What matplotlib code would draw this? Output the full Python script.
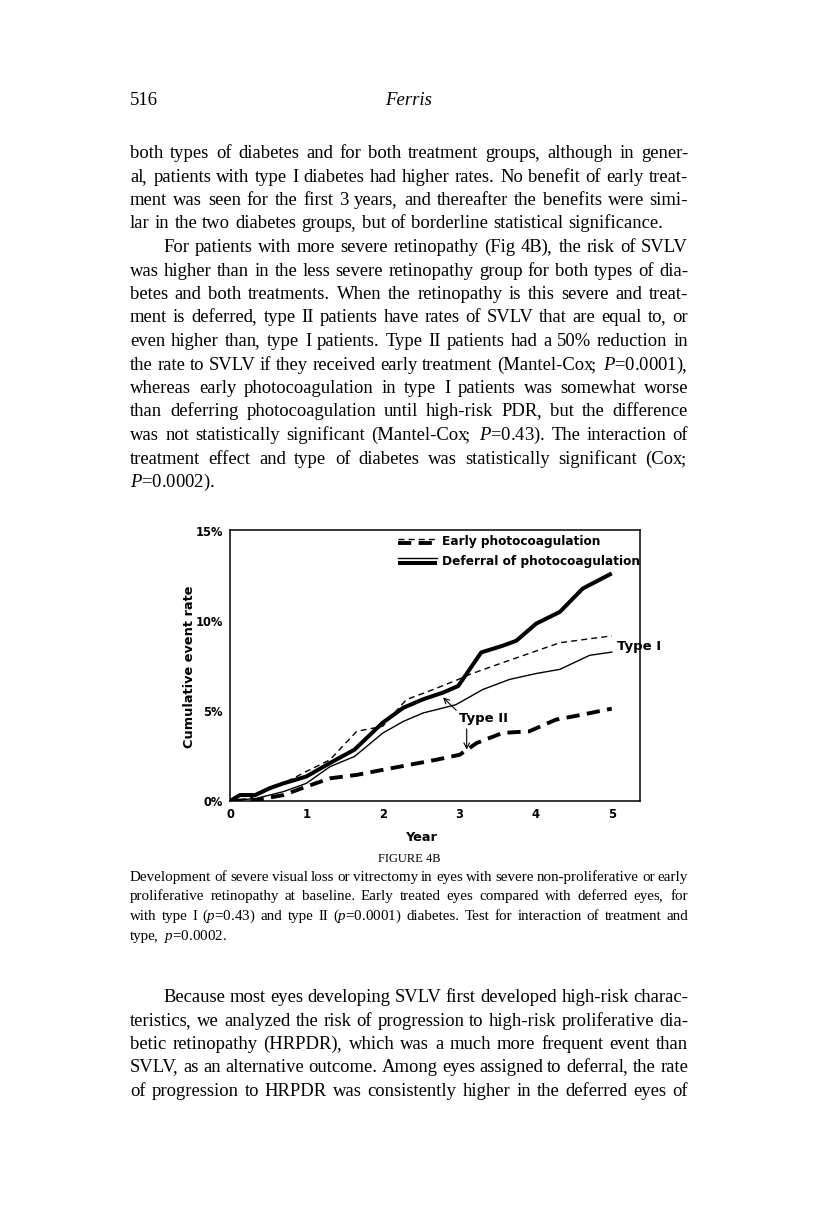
import numpy as np
import matplotlib
matplotlib.use("Agg")
import matplotlib.pyplot as plt
from matplotlib.lines import Line2D
from matplotlib.legend_handler import HandlerBase

plt.rcParams['mathtext.fontset'] = 'custom'
plt.rcParams['mathtext.it'] = 'Liberation Serif:italic'
plt.rcParams['mathtext.rm'] = 'Liberation Serif'

# --- data (years, cumulative %) ---
early_t1_x = [0, 0.26, 0.70, 1.00, 1.31, 1.66, 2.00, 2.31, 2.66, 2.99, 3.14, 3.57, 4.01, 4.32, 5.00]
early_t1_y = [0, 0.15, 0.98, 1.64, 2.29, 3.87, 4.15, 5.63, 6.19, 6.75, 7.03, 7.68, 8.33, 8.79, 9.17]

defer_t1_x = [0, 0.35, 0.70, 1.00, 1.31, 1.63, 2.00, 2.27, 2.53, 2.70, 2.96, 3.31, 3.66, 4.01, 4.32, 4.71, 5.00]
defer_t1_y = [0, 0.15, 0.52, 0.98, 1.91, 2.47, 3.77, 4.42, 4.89, 5.07, 5.35, 6.19, 6.75, 7.08, 7.31, 8.09, 8.27]

early_t2_x = [0, 0.35, 0.70, 1.00, 1.31, 1.66, 2.00, 2.35, 2.70, 3.01, 3.23, 3.57, 3.92, 4.27, 4.62, 5.00]
early_t2_y = [0, 0.06, 0.33, 0.80, 1.26, 1.45, 1.73, 2.01, 2.29, 2.57, 3.22, 3.78, 3.87, 4.52, 4.80, 5.13]

defer_t2_x = [0, 0.13, 0.33, 0.52, 0.70, 1.00, 1.31, 1.63, 2.00, 2.27, 2.53, 2.79, 2.99, 3.29, 3.57, 3.75, 4.01, 4.32, 4.62, 5.00]
defer_t2_y = [0, 0.33, 0.33, 0.71, 0.98, 1.36, 2.11, 2.85, 4.35, 5.18, 5.65, 6.02, 6.39, 8.25, 8.62, 8.90, 9.85, 10.5, 11.8, 12.64]

x_ticks = [0, 1, 2, 3, 4, 5]
y_ticks = [0, 5, 10, 15]
y_ticklabels = ['0%', '5%', '10%', '15%']

para1 = [
    "both types of diabetes and for both treatment groups, although in gener-",
    "al, patients with type I diabetes had higher rates. No benefit of early treat-",
    "ment was seen for the first 3 years, and thereafter the benefits were simi-",
    "lar in the two diabetes groups, but of borderline statistical significance.",
]
para2 = [
    "For patients with more severe retinopathy (Fig 4B), the risk of SVLV",
    "was higher than in the less severe retinopathy group for both types of dia-",
    "betes and both treatments. When the retinopathy is this severe and treat-",
    "ment is deferred, type II patients have rates of SVLV that are equal to, or",
    "even higher than, type I patients. Type II patients had a 50% reduction in",
    r"the rate to SVLV if they received early treatment (Mantel-Cox; $\mathit{P}$=0.0001),",
    "whereas early photocoagulation in type I patients was somewhat worse",
    "than deferring photocoagulation until high-risk PDR, but the difference",
    r"was not statistically significant (Mantel-Cox; $\mathit{P}$=0.43). The interaction of",
    "treatment effect and type of diabetes was statistically significant (Cox;",
    r"$\mathit{P}$=0.0002).",
]
caption = [
    "Development of severe visual loss or vitrectomy in eyes with severe non-proliferative or early",
    "proliferative retinopathy at baseline.  Early treated eyes compared with deferred eyes, for",
    r"with type I ($\mathit{p}$=0.43) and type II ($\mathit{p}$=0.0001) diabetes.  Test for interaction of treatment and",
    r"type, $\mathit{p}$=0.0002.",
]
para3 = [
    "Because most eyes developing SVLV first developed high-risk charac-",
    "teristics, we analyzed the risk of progression to high-risk proliferative dia-",
    "betic retinopathy (HRPDR), which was a much more frequent event than",
    "SVLV, as an alternative outcome. Among eyes assigned to deferral, the rate",
    "of progression to HRPDR was consistently higher in the deferred eyes of",
]

W, H = 816, 1224
fig = plt.figure(figsize=(W / 100, H / 100), dpi=100)
r = fig.canvas.get_renderer()
serif = 'Liberation Serif'
sans = 'DejaVu Sans'


def fx(px):
    return px / W


def fy(py):
    return 1 - py / H


def width_of(s, size, **kw):
    t = fig.text(0, 0, s, fontsize=size, family=serif, **kw)
    w = t.get_window_extent(r).width
    t.remove()
    return w


def text_line(s, x0, x1, yb, size, just=True, **kw):
    yb = round(yb)
    words = s.split()
    pieces = []  # (word part, punct or None, full width, punct offset)
    for w in words:
        # trailing comma / semicolon as its own text keeps baselines even
        if len(w) > 1 and w[-1] in ',;':
            full = width_of(w, size, **kw)
            pw = width_of(w[-1], size, **kw)
            pieces.append((w[:-1], w[-1], full, full - pw - 2.0))
        else:
            pieces.append((w, None, width_of(w, size, **kw), 0))
    total = sum(p[2] for p in pieces)
    if just and len(pieces) > 1:
        gap = (x1 - x0 - total) / (len(pieces) - 1)
    else:
        gap = size * 100 / 72 * 0.27
    x = x0
    for word, punct, full, off in pieces:
        fig.text(fx(x), fy(yb), word, fontsize=size, va='baseline', ha='left',
                 family=serif, **kw)
        if punct:
            fig.text(fx(x + off), fy(yb), punct, fontsize=size, va='baseline',
                     ha='left', family=serif, **kw)
        x += full + gap


L, R = 130, 688
BODY = 13.4

# header
fig.text(fx(130), fy(105), "516", fontsize=13.5, family=serif, va='baseline')
fig.text(fx(409), fy(105), "Ferris", fontsize=13.5, family=serif, style='italic',
         va='baseline', ha='center')

# first paragraphs
lh = 23.5
y0 = 158
for i, s in enumerate(para1):
    text_line(s, L, R, y0 + i * lh, BODY, just=(i < len(para1) - 1))
for i, s in enumerate(para2):
    x0 = L + 33 if i == 0 else L
    text_line(s, x0, R, y0 + (i + 4) * lh, BODY, just=(i < len(para2) - 1))

# --- chart ---
ax = fig.add_axes([fx(230), fy(801), fx(640) - fx(230), fy(530) - fy(801)])

thin_dash = (0, (4.3, 3.0))
thick_dash = (0, (3.4, 1.9))

l1, = ax.plot(early_t1_x, early_t1_y, color='black', lw=1.0, ls=thin_dash)
l2, = ax.plot(defer_t1_x, defer_t1_y, color='black', lw=1.0)
l3, = ax.plot(early_t2_x, early_t2_y, color='black', lw=2.8, ls=thick_dash)
l4, = ax.plot(defer_t2_x, defer_t2_y, color='black', lw=2.9, solid_capstyle='butt')

ax.set_xlim(0, 5.37)
ax.set_ylim(0, 15.05)
ax.set_xticks(x_ticks)
ax.set_yticks(y_ticks)
ax.set_yticklabels(y_ticklabels)
ax.tick_params(length=0, pad=5, labelsize=8.3)
for lab in ax.get_xticklabels() + ax.get_yticklabels():
    lab.set_fontweight('bold')
    lab.set_family(sans)
for sp in ax.spines.values():
    sp.set_linewidth(1.1)

ax.set_xlabel('Year', fontsize=9.3, fontweight='bold', family=sans)
ax.xaxis.set_label_coords((421 - 230) / 410, -(831 - 801) / 271)
ax.set_ylabel('Cumulative event rate', fontsize=9.3, fontweight='bold', family=sans)
ax.yaxis.set_label_coords(-(230 - 196) / 410, (801 - 667) / 271)


class StackHandler(HandlerBase):
    def create_artists(self, legend, orig_handle, xdescent, ydescent,
                       width, height, fontsize, trans):
        out = []
        for h, frac in zip(orig_handle, (0.8, 0.25)):
            ln = Line2D([-xdescent, -xdescent + width], [frac * height - ydescent] * 2)
            ln.update_from(h)
            ln.set_transform(trans)
            out.append(ln)
        return out


leg = ax.legend([(l1, l3), (l2, l4)],
                ['Early photocoagulation', 'Deferral of photocoagulation'],
                handler_map={tuple: StackHandler()},
                loc='upper left', bbox_to_anchor=(fx(396), fy(533)),
                bbox_transform=fig.transFigure, frameon=False,
                prop={'family': sans, 'weight': 'bold', 'size': 8.7},
                handlelength=3.2, handletextpad=0.4, labelspacing=0.55,
                borderpad=0.2, borderaxespad=0)

ax.text(5.07, 8.6, 'Type I', fontsize=9.5, fontweight='bold', family=sans,
        va='center', ha='left', clip_on=False, zorder=2)
ax.annotate('Type II', xy=(2.79, 5.75), xytext=(3.0, 4.6), fontsize=9.5,
            fontweight='bold', family=sans, va='center', ha='left',
            arrowprops=dict(arrowstyle='->', lw=0.8, color='black',
                            shrinkA=0, shrinkB=0, relpos=(0, 0.9)))
ax.annotate('', xy=(3.1, 2.85), xytext=(3.1, 4.0),
            arrowprops=dict(arrowstyle='->', lw=0.8, color='black',
                            shrinkA=0, shrinkB=0))

# caption
fig.text(fx(409), fy(862), "FIGURE 4B", fontsize=9, family=serif,
         va='baseline', ha='center')
cl = 19.5
for i, s in enumerate(caption):
    text_line(s, L, R, 881 + i * cl, 10.8, just=(i < len(caption) - 1))

# last paragraph
for i, s in enumerate(para3):
    x0 = L + 33 if i == 0 else L
    text_line(s, x0, R, 1002 + i * lh, BODY, just=True)

fig.savefig('out.png', dpi=100)
